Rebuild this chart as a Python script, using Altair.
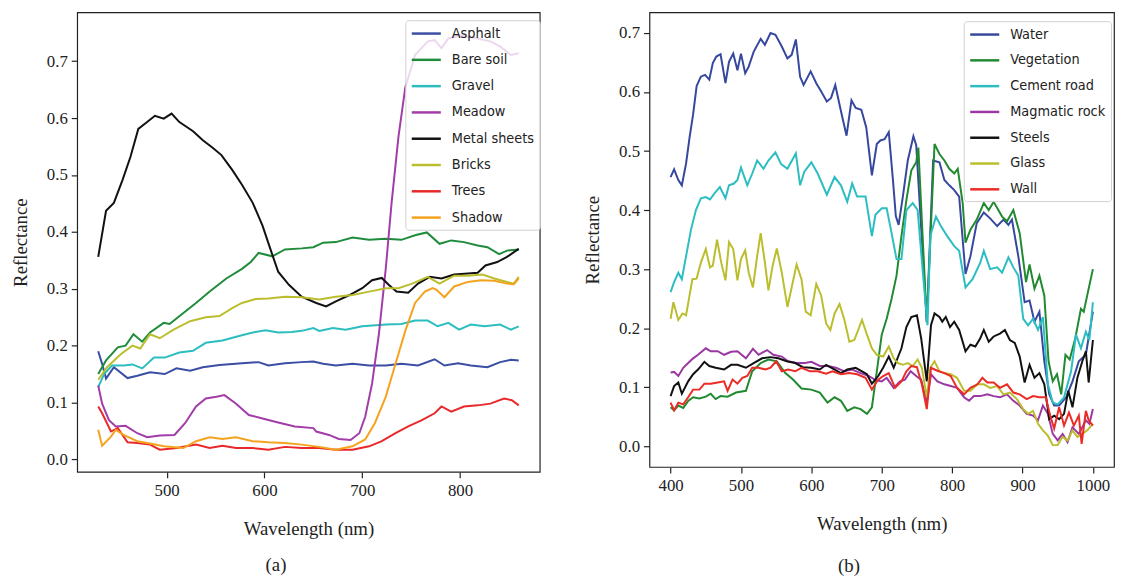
import altair as alt
import pandas as pd

# ---------------- Panel (a) ----------------
a_names = ["Asphalt", "Bare soil", "Gravel", "Meadow", "Metal sheets", "Bricks", "Trees", "Shadow"]
a_colors = ["#3a4ea3", "#1f8c3b", "#2cbdbf", "#a23ca8", "#111111", "#bbbe2c", "#e8282a", "#f5a31e"]

asphalt_wl = [430, 434, 438, 446, 460, 470, 483, 498, 510, 524, 537, 554, 577, 594, 604, 621, 638, 650, 660, 673, 690, 707, 724, 740, 757, 774, 784, 798, 811, 828, 841, 852, 860]
asphalt = [0.190, 0.168, 0.142, 0.162, 0.143, 0.147, 0.153, 0.150, 0.160, 0.156, 0.162, 0.166, 0.169, 0.171, 0.165, 0.169, 0.171, 0.172, 0.168, 0.165, 0.168, 0.165, 0.165, 0.168, 0.165, 0.176, 0.165, 0.169, 0.165, 0.162, 0.171, 0.175, 0.174]

baresoil_wl = [430, 438, 450, 458, 466, 475, 483, 497, 503, 519, 530, 544, 561, 577, 586, 594, 608, 621, 638, 650, 660, 673, 690, 707, 724, 740, 754, 766, 779, 791, 804, 818, 828, 840, 848, 860]
baresoil = [0.150, 0.174, 0.197, 0.200, 0.220, 0.207, 0.223, 0.240, 0.238, 0.260, 0.275, 0.295, 0.318, 0.335, 0.347, 0.363, 0.357, 0.369, 0.371, 0.373, 0.381, 0.382, 0.390, 0.386, 0.388, 0.386, 0.394, 0.399, 0.379, 0.385, 0.382, 0.376, 0.373, 0.361, 0.367, 0.369]

gravel_wl = [430, 436, 444, 456, 465, 475, 487, 498, 513, 527, 540, 557, 574, 588, 601, 614, 628, 638, 650, 656, 670, 683, 700, 724, 740, 754, 767, 777, 788, 799, 811, 825, 841, 852, 860]
gravel = [0.127, 0.150, 0.165, 0.165, 0.167, 0.160, 0.179, 0.179, 0.188, 0.191, 0.205, 0.209, 0.217, 0.223, 0.227, 0.223, 0.224, 0.226, 0.231, 0.226, 0.231, 0.228, 0.234, 0.237, 0.238, 0.244, 0.244, 0.234, 0.240, 0.228, 0.237, 0.234, 0.237, 0.228, 0.234]

meadow_wl = [430, 434, 441, 448, 458, 470, 480, 493, 508, 519, 530, 540, 551, 559, 571, 584, 598, 614, 631, 650, 653, 666, 676, 688, 697, 703, 710, 717, 724, 730, 737, 744, 754, 767, 774, 781, 788, 801, 818, 831, 841, 852, 860]
meadow = [0.130, 0.098, 0.069, 0.058, 0.059, 0.046, 0.039, 0.042, 0.043, 0.064, 0.093, 0.107, 0.110, 0.113, 0.098, 0.078, 0.072, 0.065, 0.058, 0.055, 0.049, 0.043, 0.036, 0.034, 0.046, 0.075, 0.133, 0.220, 0.335, 0.451, 0.567, 0.654, 0.711, 0.735, 0.737, 0.723, 0.740, 0.745, 0.740, 0.735, 0.726, 0.711, 0.714]

metal_wl = [430, 438, 446, 455, 463, 471, 480, 488, 497, 505, 513, 527, 537, 547, 556, 567, 577, 588, 598, 606, 614, 625, 638, 653, 663, 673, 687, 700, 710, 720, 727, 735, 747, 757, 769, 781, 794, 808, 818, 826, 838, 848, 860]
metal = [0.356, 0.437, 0.451, 0.492, 0.532, 0.581, 0.593, 0.604, 0.599, 0.608, 0.593, 0.577, 0.561, 0.548, 0.535, 0.509, 0.483, 0.451, 0.411, 0.370, 0.330, 0.307, 0.286, 0.275, 0.269, 0.278, 0.289, 0.301, 0.315, 0.319, 0.307, 0.295, 0.293, 0.309, 0.321, 0.318, 0.325, 0.327, 0.328, 0.341, 0.347, 0.356, 0.370]

bricks_wl = [430, 439, 453, 465, 473, 483, 493, 507, 524, 540, 554, 567, 577, 591, 604, 621, 638, 656, 673, 690, 707, 724, 737, 751, 767, 779, 794, 808, 823, 835, 848, 855, 860]
bricks = [0.140, 0.162, 0.185, 0.200, 0.195, 0.220, 0.213, 0.228, 0.243, 0.250, 0.252, 0.266, 0.275, 0.282, 0.283, 0.286, 0.285, 0.281, 0.286, 0.289, 0.295, 0.301, 0.301, 0.309, 0.321, 0.309, 0.323, 0.323, 0.325, 0.318, 0.312, 0.309, 0.321]

trees_wl = [430, 434, 443, 450, 460, 470, 483, 493, 510, 530, 544, 557, 571, 588, 604, 621, 638, 656, 673, 690, 707, 720, 734, 747, 761, 774, 781, 791, 804, 818, 831, 845, 853, 860]
trees = [0.093, 0.081, 0.049, 0.055, 0.030, 0.029, 0.026, 0.017, 0.020, 0.026, 0.020, 0.024, 0.020, 0.020, 0.017, 0.022, 0.020, 0.020, 0.017, 0.017, 0.023, 0.032, 0.046, 0.058, 0.069, 0.081, 0.093, 0.084, 0.093, 0.095, 0.098, 0.107, 0.104, 0.095]

shadow_wl = [430, 434, 443, 448, 456, 470, 483, 497, 517, 530, 544, 557, 571, 588, 604, 621, 638, 656, 673, 690, 703, 713, 724, 734, 744, 754, 764, 772, 776, 784, 794, 808, 821, 835, 848, 855, 860]
shadow = [0.052, 0.024, 0.040, 0.052, 0.043, 0.032, 0.028, 0.023, 0.020, 0.032, 0.039, 0.036, 0.039, 0.032, 0.030, 0.029, 0.026, 0.022, 0.017, 0.023, 0.035, 0.064, 0.110, 0.168, 0.226, 0.275, 0.295, 0.301, 0.298, 0.285, 0.304, 0.312, 0.315, 0.314, 0.309, 0.308, 0.318]

# ---------------- Panel (b) ----------------
b_names = ["Water", "Vegetation", "Cement road", "Magmatic rock", "Steels", "Glass", "Wall"]
b_colors = ["#36479e", "#218a30", "#2cbdc2", "#9b37a3", "#111111", "#bbbe2c", "#ec2a26"]

water_wl = [400, 405, 411, 416, 422, 427, 432, 437, 443, 449, 455, 460, 465, 471, 478, 483, 489, 495, 500, 506, 511, 518, 528, 534, 542, 549, 558, 566, 572, 578, 584, 589, 599, 607, 614, 622, 628, 634, 642, 650, 657, 663, 671, 678, 686, 693, 698, 704, 710, 716, 720, 724, 730, 737, 745, 749, 764, 773, 782, 789, 796, 803, 810, 819, 826, 835, 845, 854, 864, 873, 880, 885, 894, 903, 910, 917, 924, 931, 938, 945, 952, 962, 971, 980, 990, 1000]
water = [0.456, 0.469, 0.451, 0.442, 0.479, 0.523, 0.562, 0.610, 0.626, 0.629, 0.621, 0.649, 0.660, 0.664, 0.615, 0.651, 0.665, 0.637, 0.665, 0.632, 0.643, 0.668, 0.690, 0.680, 0.700, 0.697, 0.677, 0.657, 0.663, 0.689, 0.626, 0.612, 0.635, 0.615, 0.601, 0.584, 0.590, 0.612, 0.568, 0.526, 0.586, 0.573, 0.570, 0.540, 0.459, 0.512, 0.518, 0.520, 0.532, 0.450, 0.390, 0.375, 0.423, 0.484, 0.525, 0.510, 0.210, 0.484, 0.481, 0.451, 0.442, 0.434, 0.423, 0.292, 0.322, 0.378, 0.396, 0.386, 0.373, 0.384, 0.375, 0.384, 0.322, 0.244, 0.247, 0.211, 0.228, 0.144, 0.088, 0.069, 0.069, 0.083, 0.110, 0.144, 0.155, 0.228]

veg_wl = [400, 405, 411, 418, 425, 432, 441, 450, 457, 464, 471, 481, 493, 507, 516, 528, 539, 551, 563, 574, 586, 600, 612, 623, 633, 642, 651, 661, 670, 679, 686, 693, 700, 707, 714, 721, 728, 735, 742, 749, 752, 764, 775, 782, 789, 796, 803, 808, 815, 819, 826, 835, 845, 852, 859, 871, 878, 887, 896, 905, 910, 917, 924, 931, 937, 943, 949, 955, 961, 967, 975, 983, 987, 994, 1000]
veg = [0.066, 0.061, 0.069, 0.065, 0.077, 0.083, 0.081, 0.084, 0.089, 0.080, 0.085, 0.084, 0.091, 0.094, 0.127, 0.141, 0.147, 0.144, 0.124, 0.113, 0.098, 0.096, 0.091, 0.074, 0.083, 0.077, 0.060, 0.066, 0.063, 0.055, 0.066, 0.127, 0.189, 0.216, 0.250, 0.289, 0.356, 0.417, 0.467, 0.481, 0.506, 0.210, 0.512, 0.495, 0.484, 0.470, 0.462, 0.470, 0.412, 0.345, 0.367, 0.384, 0.412, 0.400, 0.414, 0.389, 0.381, 0.400, 0.361, 0.278, 0.308, 0.267, 0.289, 0.255, 0.144, 0.110, 0.122, 0.088, 0.155, 0.147, 0.183, 0.233, 0.228, 0.267, 0.300]

cement_wl = [400, 405, 411, 416, 422, 429, 436, 443, 450, 456, 462, 470, 478, 483, 490, 495, 500, 509, 516, 523, 532, 539, 549, 557, 566, 578, 584, 590, 600, 609, 622, 633, 642, 651, 658, 665, 677, 686, 691, 700, 707, 714, 721, 728, 735, 744, 751, 758, 765, 769, 777, 784, 793, 803, 810, 819, 829, 840, 845, 854, 864, 871, 880, 887, 894, 901, 908, 915, 922, 929, 936, 943, 950, 959, 969, 976, 983, 990, 995, 1000]
cement = [0.261, 0.278, 0.294, 0.283, 0.322, 0.367, 0.400, 0.420, 0.422, 0.418, 0.428, 0.439, 0.420, 0.442, 0.445, 0.451, 0.472, 0.442, 0.462, 0.484, 0.470, 0.484, 0.498, 0.478, 0.470, 0.496, 0.442, 0.465, 0.481, 0.462, 0.426, 0.456, 0.442, 0.414, 0.445, 0.423, 0.423, 0.356, 0.392, 0.403, 0.403, 0.361, 0.317, 0.317, 0.400, 0.412, 0.400, 0.300, 0.205, 0.356, 0.389, 0.373, 0.356, 0.339, 0.331, 0.269, 0.283, 0.311, 0.331, 0.300, 0.303, 0.294, 0.320, 0.303, 0.289, 0.216, 0.205, 0.216, 0.197, 0.219, 0.105, 0.074, 0.071, 0.083, 0.127, 0.189, 0.166, 0.194, 0.180, 0.244]

magma_wl = [400, 405, 411, 418, 425, 432, 439, 450, 457, 467, 476, 486, 495, 507, 517, 525, 537, 546, 558, 567, 579, 591, 600, 612, 623, 635, 647, 658, 670, 682, 691, 700, 707, 717, 726, 733, 741, 749, 756, 764, 770, 779, 789, 798, 807, 817, 824, 831, 840, 850, 859, 868, 878, 887, 896, 906, 915, 922, 929, 936, 943, 950, 957, 964, 971, 980, 990, 995, 1000]
magma = [0.125, 0.126, 0.119, 0.133, 0.141, 0.149, 0.155, 0.166, 0.161, 0.161, 0.155, 0.160, 0.161, 0.149, 0.165, 0.155, 0.163, 0.155, 0.152, 0.144, 0.141, 0.141, 0.143, 0.136, 0.136, 0.133, 0.127, 0.130, 0.124, 0.119, 0.112, 0.110, 0.116, 0.099, 0.110, 0.113, 0.127, 0.119, 0.113, 0.074, 0.122, 0.110, 0.105, 0.102, 0.099, 0.083, 0.077, 0.085, 0.085, 0.088, 0.085, 0.083, 0.088, 0.077, 0.069, 0.055, 0.052, 0.044, 0.069, 0.055, 0.021, 0.010, 0.021, 0.007, 0.032, 0.021, 0.044, 0.038, 0.063]

steel_wl = [400, 405, 411, 416, 425, 432, 439, 448, 455, 464, 476, 486, 495, 507, 518, 530, 542, 553, 565, 577, 588, 600, 612, 621, 630, 642, 651, 663, 672, 679, 686, 695, 702, 710, 717, 728, 735, 742, 750, 756, 764, 770, 775, 782, 786, 791, 797, 803, 810, 819, 826, 833, 840, 845, 852, 859, 868, 875, 882, 889, 896, 903, 910, 917, 924, 931, 938, 945, 952, 959, 965, 971, 978, 985, 990, 994, 1000]
steel = [0.085, 0.102, 0.108, 0.089, 0.110, 0.122, 0.130, 0.143, 0.136, 0.133, 0.130, 0.138, 0.138, 0.133, 0.141, 0.149, 0.151, 0.149, 0.144, 0.141, 0.134, 0.133, 0.130, 0.138, 0.132, 0.124, 0.130, 0.133, 0.127, 0.122, 0.106, 0.119, 0.133, 0.152, 0.133, 0.166, 0.202, 0.219, 0.222, 0.183, 0.110, 0.205, 0.225, 0.219, 0.211, 0.219, 0.202, 0.211, 0.197, 0.161, 0.172, 0.169, 0.183, 0.197, 0.177, 0.186, 0.191, 0.197, 0.180, 0.175, 0.152, 0.108, 0.138, 0.116, 0.124, 0.105, 0.046, 0.052, 0.046, 0.055, 0.094, 0.066, 0.116, 0.144, 0.161, 0.108, 0.180]

glass_wl = [400, 404, 411, 417, 422, 431, 437, 443, 450, 456, 460, 466, 472, 478, 483, 489, 495, 500, 506, 511, 517, 523, 528, 534, 539, 545, 551, 558, 566, 572, 579, 586, 592, 599, 607, 614, 621, 627, 633, 640, 647, 654, 661, 672, 679, 686, 693, 702, 710, 717, 723, 730, 737, 744, 751, 757, 764, 769, 775, 782, 789, 798, 807, 817, 826, 836, 845, 854, 864, 873, 882, 892, 901, 908, 915, 922, 929, 936, 943, 950, 957, 964, 971, 978, 985, 992, 1000]
glass = [0.216, 0.244, 0.214, 0.225, 0.222, 0.283, 0.284, 0.311, 0.334, 0.303, 0.306, 0.350, 0.311, 0.281, 0.346, 0.334, 0.281, 0.317, 0.332, 0.294, 0.269, 0.322, 0.361, 0.311, 0.264, 0.306, 0.335, 0.294, 0.236, 0.269, 0.308, 0.283, 0.228, 0.222, 0.275, 0.255, 0.208, 0.197, 0.225, 0.241, 0.214, 0.177, 0.180, 0.214, 0.189, 0.166, 0.155, 0.152, 0.169, 0.149, 0.141, 0.138, 0.141, 0.136, 0.147, 0.133, 0.083, 0.133, 0.144, 0.127, 0.124, 0.122, 0.116, 0.094, 0.094, 0.105, 0.105, 0.099, 0.102, 0.088, 0.091, 0.080, 0.063, 0.055, 0.060, 0.038, 0.027, 0.018, 0.002, 0.002, 0.016, 0.010, 0.027, 0.016, 0.021, 0.027, 0.038]

wall_wl = [400, 405, 411, 418, 425, 432, 441, 448, 457, 467, 476, 481, 488, 495, 502, 509, 516, 525, 535, 542, 550, 558, 567, 577, 586, 598, 609, 621, 630, 642, 654, 665, 677, 686, 695, 702, 710, 719, 728, 735, 742, 750, 757, 764, 770, 779, 789, 798, 807, 817, 826, 836, 843, 850, 859, 868, 878, 887, 896, 906, 915, 924, 933, 940, 945, 952, 959, 966, 973, 980, 984, 990, 994, 1000]
wall = [0.074, 0.061, 0.074, 0.071, 0.083, 0.096, 0.096, 0.106, 0.106, 0.108, 0.110, 0.094, 0.113, 0.106, 0.116, 0.119, 0.133, 0.133, 0.130, 0.133, 0.144, 0.127, 0.130, 0.127, 0.133, 0.127, 0.127, 0.123, 0.127, 0.122, 0.124, 0.122, 0.116, 0.096, 0.113, 0.119, 0.124, 0.099, 0.110, 0.127, 0.136, 0.134, 0.105, 0.063, 0.133, 0.128, 0.124, 0.119, 0.099, 0.088, 0.099, 0.105, 0.116, 0.108, 0.108, 0.099, 0.105, 0.091, 0.088, 0.080, 0.085, 0.083, 0.083, 0.049, 0.030, 0.066, 0.035, 0.057, 0.035, 0.052, 0.004, 0.060, 0.044, 0.035]

y_ticks = [0.0, 0.1, 0.2, 0.3, 0.4, 0.5, 0.6, 0.7]
a_xticks = [500, 600, 700, 800]
b_xticks = [400, 500, 600, 700, 800, 900, 1000]


def frame(series):
    rows = []
    for idx, (name, wl, vals) in enumerate(series):
        for w, v in zip(wl, vals):
            rows.append({"name": name, "idx": idx, "wl": w, "r": v})
    return pd.DataFrame(rows)


df_a = frame([
    ("Asphalt", asphalt_wl, asphalt), ("Bare soil", baresoil_wl, baresoil),
    ("Gravel", gravel_wl, gravel), ("Meadow", meadow_wl, meadow),
    ("Metal sheets", metal_wl, metal), ("Bricks", bricks_wl, bricks),
    ("Trees", trees_wl, trees), ("Shadow", shadow_wl, shadow),
])
df_b = frame([
    ("Water", water_wl, water), ("Vegetation", veg_wl, veg),
    ("Cement road", cement_wl, cement), ("Magmatic rock", magma_wl, magma),
    ("Steels", steel_wl, steel), ("Glass", glass_wl, glass),
    ("Wall", wall_wl, wall),
])

SERIF = "Liberation Serif"
SANS = "DejaVu Sans Condensed, Liberation Sans Narrow, DejaVu Sans"


def panel(df, names, colors, xdom, ydom, xticks, w, h, caption, cap_offset, legx, legy, rowpad):
    return alt.Chart(df).mark_line(strokeWidth=2).encode(
        x=alt.X("wl:Q",
                scale=alt.Scale(domain=xdom, nice=False, zero=False),
                axis=alt.Axis(values=xticks, format="d", title="Wavelength (nm)")),
        y=alt.Y("r:Q",
                scale=alt.Scale(domain=ydom, nice=False, zero=False),
                axis=alt.Axis(values=y_ticks, format=".1f", title="Reflectance")),
        color=alt.Color("name:N",
                        scale=alt.Scale(domain=names, range=colors),
                        legend=alt.Legend(
                            title=None, orient="none", legendX=legx, legendY=legy,
                            symbolType="M-1,0H3.2", symbolSize=196, symbolStrokeWidth=2.5,
                            labelOffset=25, rowPadding=rowpad, padding=5,
                            labelFont=SANS, labelFontSize=14.5, labelColor="#222222",
                            fillColor="rgba(255,255,255,0.8)", strokeColor="#d0d0d0",
                            cornerRadius=3, labelLimit=200)),
        detail="idx:O",
    ).properties(
        width=w, height=h,
        title=alt.Title(caption, orient="bottom", anchor="middle", frame="bounds",
                        offset=cap_offset, font=SERIF, fontSize=19, fontWeight="normal",
                        color="#222222"),
    )


chart_a = panel(df_a, a_names, a_colors, [408.5, 881.5], [-0.022, 0.786], a_xticks,
                468, 465, "(a)", 18, 332, 8, 11.6)
chart_b = panel(df_b, b_names, b_colors, [370, 1030], [-0.035, 0.735], b_xticks,
                470, 460, "(b)", 24, 318, 9, 11.1)

chart = alt.hconcat(chart_a, chart_b, spacing=42).resolve_scale(
    color="independent", x="independent", y="independent"
).resolve_legend(color="independent").properties(
    padding={"left": 3, "top": 0, "right": 0, "bottom": 0}
).configure_view(
    stroke="#222222", strokeWidth=1.2
).configure_axis(
    domain=False, grid=False, tickColor="#222222", tickSize=6, tickWidth=1.2,
    labelFont=SERIF, labelFontSize=17, labelColor="#222222", labelPadding=4,
    titleFont=SERIF, titleFontSize=19, titleFontWeight="normal", titleColor="#222222",
).configure_axisY(titlePadding=16).configure_axisX(titlePadding=21, labelPadding=5)

chart.save("out.html", embed_options={"renderer": "svg", "actions": False})
